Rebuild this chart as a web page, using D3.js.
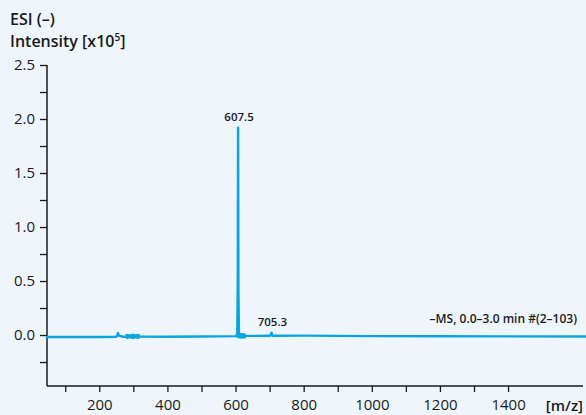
<!DOCTYPE html>
<html><head><meta charset="utf-8">
<script src="https://cdn.jsdelivr.net/npm/d3@7"></script>
<style>
html,body{margin:0;padding:0;background:#eef6fc;}
svg{display:block;}
text{font-family:"Open Sans","Noto Sans",sans-serif;fill:#1a1a1a;}
</style></head>
<body><svg id="c" width="586" height="415"></svg>
<script>
// spectrum trace (m/z, intensity x10^5)
const mz = [46, 100, 200, 250, 253, 255, 257, 270, 280, 283, 286, 290, 293, 296, 299, 302, 306, 309, 312, 316, 320, 400, 500, 600, 603, 605, 606.5, 607.5, 608.5, 610, 612, 615, 618, 621, 625, 630, 650, 700, 703, 705.3, 707.5, 710, 800, 1000, 1200, 1400, 1635];
const intensity = [-0.019, -0.019, -0.018, -0.017, -0.005, 0.02, -0.005, -0.016, -0.015, -0.006, -0.014, -0.013, -0.006, -0.013, -0.006, -0.013, -0.006, -0.013, -0.006, -0.013, -0.015, -0.016, -0.014, -0.01, -0.008, 0.02, 0.5, 1.92, 0.4, 0.02, -0.003, 0.008, -0.004, 0.004, -0.005, -0.008, -0.008, -0.007, -0.004, 0.022, -0.004, -0.007, -0.006, -0.01, -0.012, -0.013, -0.014];
// small blobs on the baseline
const blobMz = [283, 296, 301, 313, 608, 613, 619, 624];
const blobY = [-0.012, -0.012, -0.012, -0.012, -0.002, -0.008, -0.008, -0.008];
const peakLabels = [{mz: 607.5, y: 1.92, text: "607.5"}, {mz: 705.3, y: 0.022, text: "705.3"}];
const xTicks = [100, 200, 300, 400, 500, 600, 700, 800, 900, 1000, 1100, 1200, 1300, 1400];
const xLabels = [200, 400, 600, 800, 1000, 1200, 1400];
const yTicks = [-0.25, 0, 0.25, 0.5, 0.75, 1.0, 1.25, 1.5, 1.75, 2.0, 2.25, 2.5];
const yLabels = [0, 0.5, 1.0, 1.5, 2.0, 2.5];
const title1 = "ESI (–)";
const infoText = "–MS, 0.0–3.0 min #(2–103)";

const svg = d3.select("#c");
const x = d3.scaleLinear().domain([46.5, 1620]).range([47, 583]);
const y = d3.scaleLinear().domain([-0.472, 2.5]).range([386, 65]);

// axes
const yAxis = d3.axisLeft(y).tickValues(yTicks).tickSize(7).tickSizeOuter(0)
  .tickFormat(d => yLabels.some(v => Math.abs(v - d) < 1e-9) ? d3.format(".1f")(d) : "");
const gy = svg.append("g").attr("transform", "translate(47,0)").call(yAxis);
gy.select(".domain").attr("d", `M0,${y(2.5)}V386`).attr("stroke", "#1a1a1a").attr("stroke-width", 1.5);
gy.selectAll(".tick line").attr("stroke", "#1a1a1a").attr("stroke-width", 1.3);
gy.selectAll(".tick text").attr("x", -12).style("font-size", "15px").attr("fill", "#1a1a1a");

const xAxis = d3.axisBottom(x).tickValues(xTicks).tickSize(6).tickSizeOuter(0)
  .tickFormat(d => xLabels.includes(d) ? d : "");
const gx = svg.append("g").attr("transform", "translate(0,386)").call(xAxis);
gx.select(".domain").attr("d", "M47,0H583").attr("stroke", "#1a1a1a").attr("stroke-width", 1.5);
gx.selectAll(".tick line").attr("stroke", "#1a1a1a").attr("stroke-width", 1.3);
gx.selectAll(".tick text").attr("y", 13).style("font-size", "15px").attr("fill", "#1a1a1a");

// trace
const line = d3.line().x((d, i) => x(mz[i])).y((d, i) => y(intensity[i]));
svg.append("path").datum(mz).attr("d", line)
  .attr("fill", "none").attr("stroke", "#0aa5de").attr("stroke-width", 2.4)
  .attr("stroke-linejoin", "round").attr("stroke-linecap", "round");
svg.selectAll(".blob").data(blobMz).enter().append("circle")
  .attr("cx", d => x(d)).attr("cy", (d, i) => y(blobY[i])).attr("r", 2.6)
  .attr("fill", "#0aa5de");

// peak labels
svg.selectAll(".pl").data(peakLabels).enter().append("text")
  .attr("x", d => x(d.mz) + 1).attr("y", d => y(d.y) - 7)
  .attr("text-anchor", "middle").style("font-size", "11.5px").style("font-weight", "600")
  .text(d => d.text);

svg.append("text").attr("x", 577).attr("y", 323).attr("text-anchor", "end")
  .style("font-size", "12px").style("font-weight", "600").text(infoText);

// titles
svg.append("text").attr("x", 10).attr("y", 25).style("font-size", "16px").style("font-weight", "600").text(title1);
const t2 = svg.append("text").attr("x", 10).attr("y", 47).style("font-size", "16px").style("font-weight", "600");
t2.append("tspan").text("Intensity [x10");
t2.append("tspan").attr("dy", -6).style("font-size", "10px").text("5");
t2.append("tspan").attr("dy", 6).text("]");

svg.append("text").attr("x", 583).attr("y", 411).attr("text-anchor", "end")
  .style("font-size", "15px").style("font-weight", "600").text("[m/z]");
</script></body></html>
